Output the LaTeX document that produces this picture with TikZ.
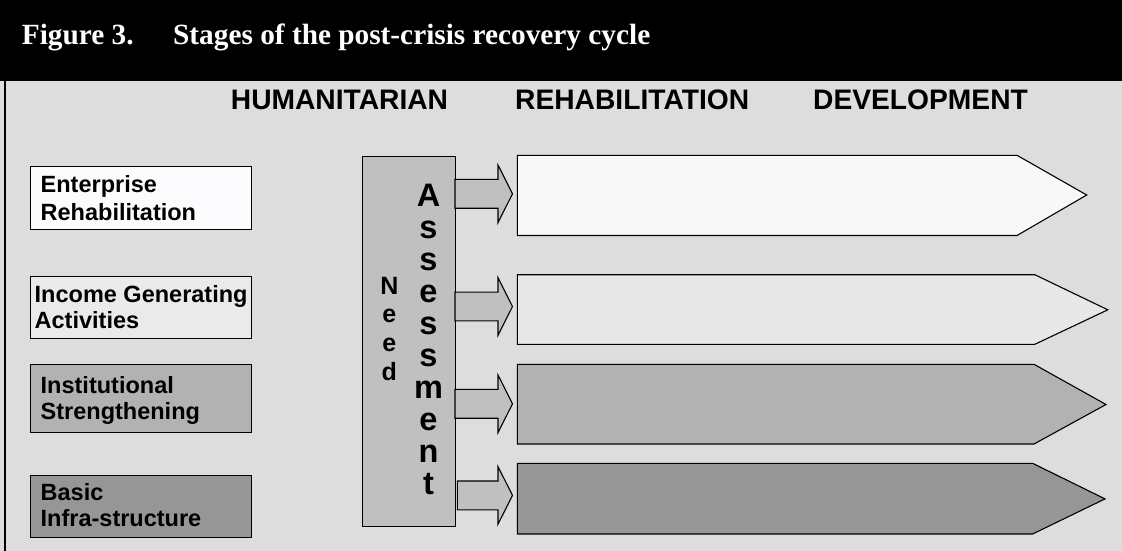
\documentclass[tikz,border=0pt]{standalone}
\usepackage{fontspec}
\setmainfont{Liberation Serif}
\newfontfamily\arialf{Liberation Sans}
\definecolor{bgc}{HTML}{DDDDDD}
\definecolor{cA}{HTML}{FCFCFE}
\definecolor{cAa}{HTML}{F8F8F8}
\definecolor{cB}{HTML}{EAEAEA}
\definecolor{cBa}{HTML}{E8E8E8}
\definecolor{cC}{HTML}{B2B2B2}
\definecolor{cD}{HTML}{969696}
\definecolor{cN}{HTML}{C0C0C0}
\tikzset{
  lbox/.style={draw=black, line width=1.1pt, anchor=north west, inner sep=0pt, minimum width=221pt},
  ltext/.style={anchor=base west, inner sep=0pt, font=\arialf\bfseries\fontsize{23.5}{26}\selectfont},
  hdr/.style={anchor=base west, inner sep=0pt, font=\arialf\bfseries\fontsize{28.2}{32}\selectfont},
  ttl/.style={anchor=base west, inner sep=0pt, text=white, font=\bfseries\fontsize{29.3}{35}\selectfont},
  bigarrow/.style={draw=black, line width=1.1pt, line join=miter},
  smallarrow/.style={draw=black, line width=1.1pt, fill=cN, line join=miter},
  needl/.style={anchor=base, inner sep=0pt, font=\arialf\bfseries\fontsize{25}{28}\selectfont},
  assl/.style={anchor=base, inner sep=0pt, font=\arialf\bfseries\fontsize{32.5}{33}\selectfont}
}
\begin{document}
\begin{tikzpicture}[x=1pt,y=-1pt]
\useasboundingbox (0,0) rectangle (1122,551);
\fill[bgc] (0,0) rectangle (1122,551);
\fill[black] (0,0) rectangle (1122,81);
\draw[line width=2.6pt] (5,81) -- (5,551);
% title
\node[ttl] (fig) at (21.7,44.5) {Figure 3.};
\node[ttl] (title) at (173,44.5) {Stages of the post-crisis recovery cycle};
% headers
\node[hdr] (hum) at (230.7,109) {HUMANITARIAN};
\node[hdr] (reh) at (515,109) {REHABILITATION};
\node[hdr] (dev) at (813,109) {DEVELOPMENT};
% left boxes
\node[lbox, fill=cA, minimum height=63pt] (b1) at (29.5,166) {};
\node[lbox, fill=cB, minimum height=62pt] (b2) at (29.5,276) {};
\node[lbox, fill=cC, minimum height=68pt] (b3) at (29.5,364) {};
\node[lbox, fill=cD, minimum height=62pt] (b4) at (29.5,475) {};
\node[ltext] (t1a) at (40.5,192) {Enterprise};
\node[ltext] (t1b) at (40.5,220.5) {Rehabilitation};
\node[ltext] (t2a) at (34.5,302.5) {Income Generating};
\node[ltext] (t2b) at (34.5,328.5) {Activities};
\node[ltext] (t3a) at (40.5,393.5) {Institutional};
\node[ltext] (t3b) at (40.5,419) {Strengthening};
\node[ltext] (t4a) at (40.5,500.5) {Basic};
\node[ltext] (t4b) at (40.5,526.5) {Infra-structure};
% need assessment box
\node[draw=black, line width=1.1pt, fill=cN, anchor=north west, inner sep=0pt, minimum width=93pt, minimum height=370pt] (need) at (362,155.5) {};
\foreach \l [count=\i from 0] in {N,e,e,d}
  \node[needl] (n\i) at (389.3,294+28.7*\i) {\l};
\foreach \l [count=\i from 0] in {A,s,s,e,s,s,m,e,n,t}
  \node[assl] (a\i) at (428.5,206+32*\i) {\l};
% small block arrows
\foreach \yc/\xs [count=\k] in {193.8/455, 306.5/455, 403.8/455, 495.4/457.4} {
  \coordinate (s\k) at (\xs,\yc);
  \draw[smallarrow] (s\k) ++(0,-14.4) -- (498,\yc-14.4) -- (498,\yc-28.8) -- (512.5,\yc) -- (498,\yc+28.8) -- (498,\yc+14.4) -- (\xs,\yc+14.4) -- cycle;
}
% big pentagon arrows
\draw[bigarrow, fill=cAa] (517.4,155.3) coordinate (p1) -- (1017,155.3) -- (1086.7,195) -- (1017,235.5) -- (517.4,235.5) -- cycle;
\draw[bigarrow, fill=cBa] (517.4,274.7) coordinate (p2) -- (1034.8,274.7) -- (1107.8,309.8) -- (1034.8,344.3) -- (517.4,344.3) -- cycle;
\draw[bigarrow, fill=cC] (517.4,364.3) coordinate (p3) -- (1034,364.3) -- (1106,404.5) -- (1034,444) -- (517.4,444) -- cycle;
\draw[bigarrow, fill=cD] (517.4,463.3) coordinate (p4) -- (1032.6,463.3) -- (1105,498.9) -- (1032.6,534) -- (517.4,534) -- cycle;
\end{tikzpicture}
\end{document}
